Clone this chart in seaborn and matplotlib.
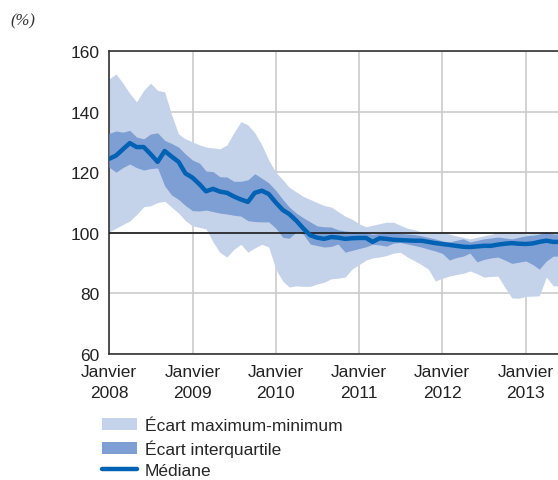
import pandas as pd
import numpy as np
import matplotlib
matplotlib.use("Agg")
import matplotlib.pyplot as plt
import matplotlib.patches as mpatches
import matplotlib.lines as mlines
import seaborn as sns

# monthly series, Jan 2008 -> Jun 2013 (last month partly cut off by the frame)
maximum = [150.8, 152.4, 149.5, 146.0, 143.2, 147.0, 149.4, 147.0, 146.5, 139.0,
           132.6, 131.0, 130.0, 129.0, 128.3, 128.0, 127.7, 129.0, 133.0, 136.7,
           135.6, 133.0, 129.0, 124.0, 120.0, 117.5, 115.0, 113.5, 112.0, 111.0,
           110.0, 109.0, 108.5, 107.0, 105.5, 104.5, 103.0, 102.0, 102.5, 103.0,
           103.5, 103.5, 102.5, 101.5, 101.0, 100.3, 100.2, 100.4, 100.0, 99.6,
           99.0, 98.5, 98.0, 98.5, 99.0, 99.5, 100.0, 100.0, 100.3, 100.0,
           99.6, 99.8, 100.0, 100.3, 100.0, 100.0]
quart_haut = [132.8, 133.6, 133.2, 133.8, 131.6, 131.0, 132.6, 133.0, 130.5, 129.5,
              128.3, 126.0, 124.0, 123.0, 120.4, 120.2, 118.5, 118.4, 117.0, 117.0,
              117.5, 119.5, 118.0, 116.5, 114.0, 111.0, 108.5, 106.5, 105.0, 103.6,
              102.3, 102.0, 101.9, 101.0, 100.6, 100.4, 100.3, 100.0, 99.5, 99.8,
              100.3, 100.0, 99.8, 99.6, 99.4, 99.0, 98.5, 98.0, 97.3, 97.0,
              97.5, 98.0, 97.0, 97.5, 98.0, 98.3, 98.6, 98.3, 98.0, 98.5,
              99.0, 99.2, 99.6, 100.3, 99.6, 99.6]
mediane = [124.4, 125.5, 127.5, 129.6, 128.3, 128.3, 126.0, 123.4, 127.0, 125.2,
           123.4, 119.6, 118.2, 116.0, 113.7, 114.5, 113.6, 113.2, 112.0, 111.0,
           110.2, 113.2, 113.9, 112.8, 110.0, 107.5, 106.2, 104.0, 101.5, 99.2,
           98.4, 98.0, 98.6, 98.4, 98.0, 98.2, 98.3, 98.3, 97.0, 98.2,
           98.0, 97.7, 97.6, 97.5, 97.4, 97.4, 97.0, 96.6, 96.3, 96.0,
           95.7, 95.4, 95.3, 95.5, 95.7, 95.7, 96.1, 96.4, 96.6, 96.4,
           96.3, 96.5, 97.0, 97.4, 97.0, 97.0]
quart_bas = [121.7, 120.0, 121.5, 122.7, 121.5, 120.7, 121.2, 121.4, 115.5, 112.5,
             111.0, 109.0, 107.3, 107.2, 107.5, 107.0, 106.5, 106.2, 105.8, 105.5,
             104.0, 103.7, 103.6, 103.6, 101.5, 98.5, 98.2, 100.3, 99.6, 96.3,
             95.8, 95.3, 95.5, 96.3, 93.6, 94.2, 94.8, 95.4, 96.2, 96.0,
             95.6, 96.6, 96.8, 96.3, 95.8, 95.3, 94.6, 94.0, 93.2, 91.0,
             91.8, 92.3, 93.3, 90.4, 91.2, 91.7, 92.0, 91.0, 89.9, 90.3,
             90.7, 89.5, 88.0, 90.7, 92.3, 92.3]
minimum = [100.3, 101.5, 102.7, 103.9, 106.0, 108.6, 108.9, 110.0, 110.4, 108.5,
           106.5, 104.0, 102.3, 101.8, 101.3, 97.0, 93.5, 92.0, 94.5, 96.2,
           93.6, 95.0, 96.2, 95.3, 88.0, 84.0, 82.1, 82.5, 82.3, 82.3,
           83.1, 83.7, 84.8, 85.0, 85.4, 88.0, 89.5, 91.0, 91.7, 92.0,
           92.5, 93.3, 93.6, 92.0, 90.8, 89.5, 88.0, 84.1, 85.0, 85.7,
           86.2, 86.6, 87.4, 86.5, 85.4, 85.6, 85.7, 82.0, 78.5, 78.4,
           79.0, 79.1, 79.2, 85.4, 82.5, 82.5]

annees = [2008, 2009, 2010, 2011, 2012, 2013]
labels_x = ["Janvier\n%d" % a for a in annees]
labels_legende = ["Écart maximum-minimum", "Écart interquartile", "Médiane"]

dates = pd.date_range("2008-01-01", periods=len(mediane), freq="MS")
df = pd.DataFrame({"date": dates, "max": maximum, "q3": quart_haut,
                   "med": mediane, "q1": quart_bas, "min": minimum})

c_clair = "#c5d3ea"
c_fonce = "#7d9fd4"
c_med = "#0062b4"

sns.set_theme(style="white")
plt.rcParams["font.family"] = ["Liberation Sans", "DejaVu Sans"]

fig = plt.figure(figsize=(5.58, 4.81), dpi=100)
ax = fig.add_axes([109 / 558, 1 - 355 / 481, 449 / 558, 303 / 481])

ax.fill_between(df["date"], df["min"], df["max"], color=c_clair, lw=0, zorder=2)
ax.fill_between(df["date"], df["q1"], df["q3"], color=c_fonce, lw=0, zorder=3)
ax.axhline(100, color="#1a1a1a", lw=1.2, zorder=4)
sns.lineplot(data=df, x="date", y="med", color=c_med, lw=3.2, ax=ax, zorder=5)

ax.set_ylim(60, 160)
ax.set_yticks([60, 80, 100, 120, 140, 160])
ax.set_xlim(pd.Timestamp("2008-01-01"), pd.Timestamp("2013-05-22"))
ticks = [pd.Timestamp("%d-01-01" % a) for a in annees]
ax.set_xticks(ticks)
ax.set_xticklabels(labels_x, linespacing=1.55)
ax.set_xlabel("")
ax.set_ylabel("")

ax.grid(True, color="#cccccc", lw=1.2, zorder=0)
ax.set_axisbelow(True)
ax.tick_params(length=0, labelsize=12.5, colors="#222222")
ax.tick_params(axis="y", pad=7)
ax.tick_params(axis="x", pad=7)
for s in ["left", "bottom", "top"]:
    ax.spines[s].set_color("#333333")
    ax.spines[s].set_linewidth(1.2)
ax.spines["right"].set_visible(False)

fig.text(10 / 558, 1 - 21 / 481, "(%)", style="italic", fontsize=12,
         color="#333333", family="Liberation Serif", va="center")

handles = [mpatches.Patch(color=c_clair, lw=0),
           mpatches.Patch(color=c_fonce, lw=0),
           mlines.Line2D([], [], color=c_med, lw=3.2)]
fig.legend(handles, labels_legende, loc="upper left",
           bbox_to_anchor=(102 / 558, 1 - 419 / 481), frameon=False,
           fontsize=12.5, handlelength=2.0, handleheight=0.7,
           handletextpad=0.45, labelspacing=0.36, borderpad=0,
           borderaxespad=0)

fig.savefig("out.png", dpi=100)
